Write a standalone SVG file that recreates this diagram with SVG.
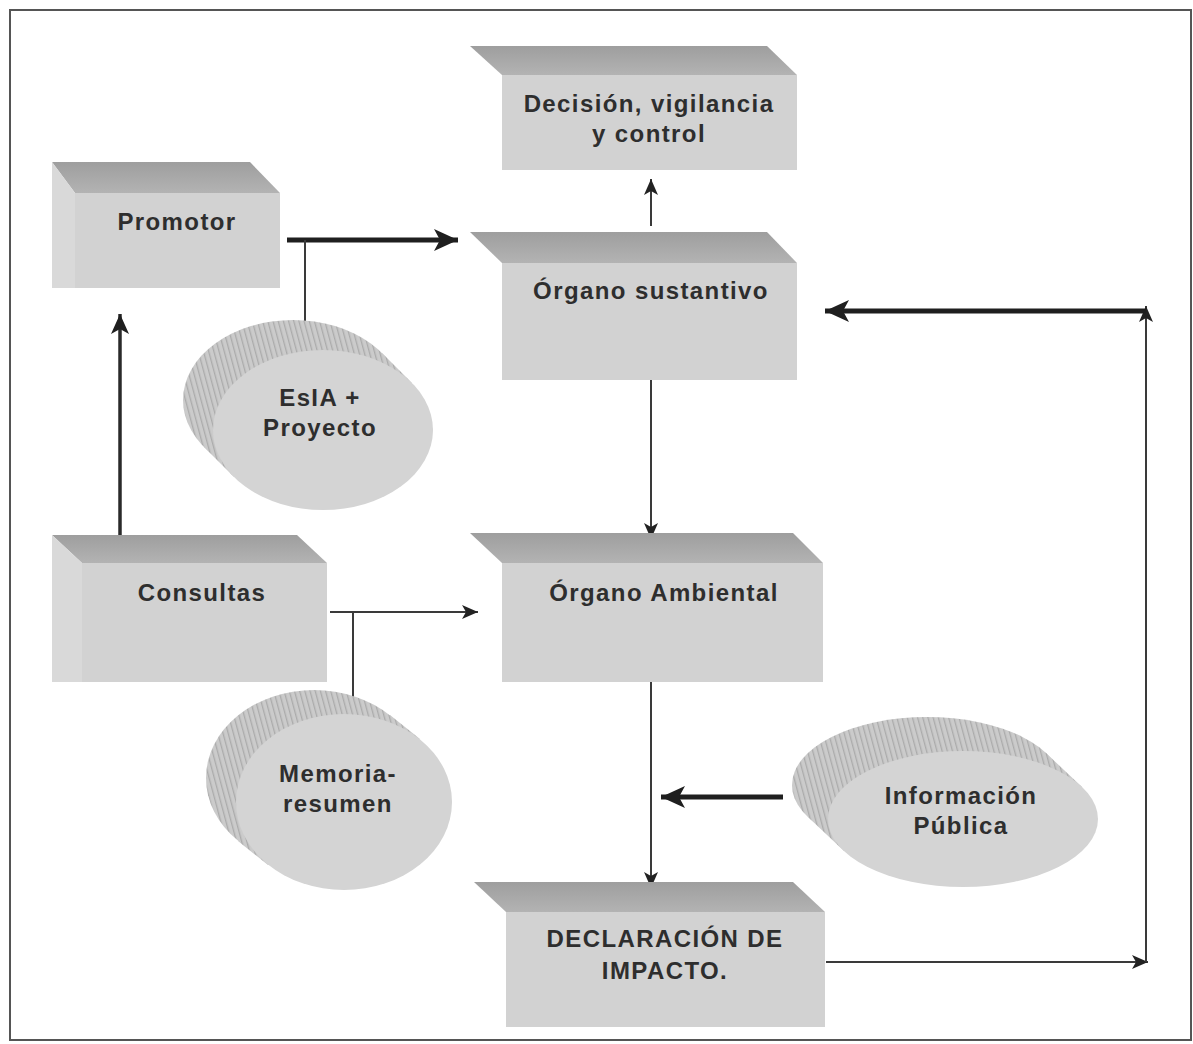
<svg xmlns="http://www.w3.org/2000/svg" width="1193" height="1044" viewBox="0 0 1193 1044">
  <defs>
    <style>
      .lbl { font-family: "Liberation Sans", Arial, sans-serif; font-weight: bold; font-size: 24px; letter-spacing: 1.4px; fill: #2e2e2e; text-anchor: middle; }
      .front { fill: #d2d2d2; }
      .top { fill: url(#topShade); }
      .side { fill: #d9d9d9; }
      .disc-side { fill: url(#stripes); }
      .disc-front { fill: #d4d4d4; }
      .link { stroke: #3a3a3a; stroke-width: 2; fill: none; }
      .heavy { stroke: #1f1f1f; stroke-width: 5; fill: none; }
      .mid { stroke: #2a2a2a; stroke-width: 3.5; fill: none; }
    </style>
    <linearGradient id="topShade" x1="0" y1="0" x2="0" y2="1">
      <stop offset="0" stop-color="#9e9e9e"/>
      <stop offset="1" stop-color="#b3b3b3"/>
    </linearGradient>
    <pattern id="stripes" width="5" height="5" patternUnits="userSpaceOnUse" patternTransform="rotate(-15)">
      <rect width="5" height="5" fill="#cbcbcb"/>
      <rect width="1.3" height="5" fill="#ababab"/>
    </pattern>
    <marker id="headS" viewBox="0 0 16 14" refX="16" refY="7" markerWidth="16" markerHeight="14" markerUnits="userSpaceOnUse" orient="auto">
      <path d="M0,0 L16,7 L0,14 L4,7 Z" fill="#222"/>
    </marker>
    <marker id="headM" viewBox="0 0 20 18" refX="20" refY="9" markerWidth="20" markerHeight="18" markerUnits="userSpaceOnUse" orient="auto">
      <path d="M0,0 L20,9 L0,18 L5,9 Z" fill="#1f1f1f"/>
    </marker>
    <marker id="headL" viewBox="0 0 24 22" refX="24" refY="11" markerWidth="24" markerHeight="22" markerUnits="userSpaceOnUse" orient="auto">
      <path d="M0,0 L24,11 L0,22 L6,11 Z" fill="#1f1f1f"/>
    </marker>
  </defs>

  <rect width="1193" height="1044" fill="#ffffff"/>
  <!-- outer frame -->
  <rect x="10" y="10" width="1181" height="1030" fill="none" stroke="#555" stroke-width="2"/>

  <!-- connectors -->
  <g id="connectors">
    <line class="heavy" x1="287" y1="240" x2="458" y2="240" marker-end="url(#headL)"/>
    <line class="link" x1="305" y1="240" x2="305" y2="340"/>
    <line class="mid" x1="120" y1="535" x2="120" y2="314" marker-end="url(#headM)"/>
    <line class="link" x1="330" y1="612" x2="478" y2="612" marker-end="url(#headS)"/>
    <line class="link" x1="353" y1="612" x2="353" y2="720"/>
    <line class="link" x1="651" y1="226" x2="651" y2="179" marker-end="url(#headS)"/>
    <line class="link" x1="651" y1="380" x2="651" y2="539" marker-end="url(#headS)"/>
    <line class="link" x1="651" y1="682" x2="651" y2="888" marker-end="url(#headS)"/>
    <line class="heavy" x1="783" y1="797" x2="661" y2="797" marker-end="url(#headL)"/>
    <line class="link" x1="826" y1="962" x2="1148" y2="962" marker-end="url(#headS)"/>
    <line class="link" x1="1146" y1="962" x2="1146" y2="306" marker-end="url(#headS)"/>
    <line class="heavy" x1="1146" y1="311" x2="825" y2="311" marker-end="url(#headL)"/>
  </g>

  <!-- Decisión, vigilancia y control -->
  <g id="decision">
    <polygon class="top" points="470,46 767,46 797,75 502,75"/>
    <rect class="front" x="502" y="75" width="295" height="95"/>
    <text class="lbl" x="649" y="112">Decisión, vigilancia</text>
    <text class="lbl" x="649" y="142">y control</text>
  </g>

  <!-- Promotor -->
  <g id="promotor">
    <polygon class="top" points="52,162 250,162 280,193 75,193"/>
    <polygon class="side" points="52,162 75,193 75,288 52,288"/>
    <rect class="front" x="75" y="193" width="205" height="95"/>
    <text class="lbl" x="177" y="230">Promotor</text>
  </g>

  <!-- Órgano sustantivo -->
  <g id="organo-sustantivo">
    <polygon class="top" points="470,232 767,232 797,263 502,263"/>
    <rect class="front" x="502" y="263" width="295" height="117"/>
    <text class="lbl" x="651" y="299">Órgano sustantivo</text>
  </g>

  <!-- EsIA + Proyecto -->
  <g id="esia-proyecto">
    <ellipse class="disc-side" cx="293" cy="400" rx="110" ry="80"/>
    <polygon class="disc-side" points="412,383 234,477 204,447 382,353"/>
    <ellipse class="disc-front" cx="323" cy="430" rx="110" ry="80"/>
    <text class="lbl" x="320" y="406">EsIA +</text>
    <text class="lbl" x="320" y="436">Proyecto</text>
  </g>

  <!-- Consultas -->
  <g id="consultas">
    <polygon class="top" points="52,535 297,535 327,563 82,563"/>
    <polygon class="side" points="52,535 82,563 82,682 52,682"/>
    <rect class="front" x="82" y="563" width="245" height="119"/>
    <text class="lbl" x="202" y="601">Consultas</text>
  </g>

  <!-- Órgano Ambiental -->
  <g id="organo-ambiental">
    <polygon class="top" points="470,533 793,533 823,563 502,563"/>
    <rect class="front" x="502" y="563" width="321" height="119"/>
    <text class="lbl" x="664" y="601">Órgano Ambiental</text>
  </g>

  <!-- Memoria-resumen -->
  <g id="memoria-resumen">
    <ellipse class="disc-side" cx="314" cy="778" rx="108" ry="88"/>
    <polygon class="disc-side" points="420,739 268,865 238,841 390,715"/>
    <ellipse class="disc-front" cx="344" cy="802" rx="108" ry="88"/>
    <text class="lbl" x="338" y="782">Memoria-</text>
    <text class="lbl" x="338" y="812">resumen</text>
  </g>

  <!-- Información Pública -->
  <g id="informacion-publica">
    <ellipse class="disc-side" cx="927" cy="785" rx="135" ry="68"/>
    <polygon class="disc-side" points="1082,787 844,851 808,817 1046,753"/>
    <ellipse class="disc-front" cx="963" cy="819" rx="135" ry="68"/>
    <text class="lbl" x="961" y="804">Información</text>
    <text class="lbl" x="961" y="834">Pública</text>
  </g>

  <!-- Declaración de impacto -->
  <g id="declaracion">
    <polygon class="top" points="474,882 793,882 825,912 506,912"/>
    <rect class="front" x="506" y="912" width="319" height="115"/>
    <text class="lbl" x="665" y="947">DECLARACIÓN DE</text>
    <text class="lbl" x="665" y="979">IMPACTO.</text>
  </g>
</svg>
